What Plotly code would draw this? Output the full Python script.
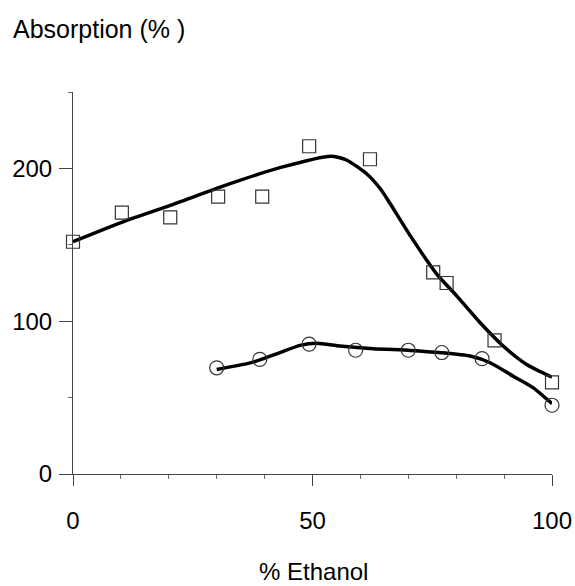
import plotly.graph_objects as go

# Square series (upper)
sq_x = [0, 10.2, 20.3, 30.3, 39.5, 49.3, 62, 75.2, 78, 88, 100]
sq_y = [152, 171, 168, 181.5, 181.5, 214.5, 206, 132, 125, 87.5, 60]
# Circle series (lower)
ci_x = [30, 39, 49.3, 59, 70, 77, 85.4, 100]
ci_y = [69.5, 75, 85, 81, 81, 79.5, 75.5, 45]

# Fitted curves (hand-drawn smooth lines)
up_x = [0, 11.2, 19.6, 32.8, 43.2, 53.8, 57.1, 61.3, 64.2, 66.2, 70.4, 75.9, 80.1, 85, 89.8, 94.7, 100]
up_y = [152, 166, 175, 190, 200.5, 208, 205.5, 196.5, 186.5, 177, 156, 131, 116.6, 99, 83.8, 71.7, 63.4]
lo_x = [30, 37.6, 43.2, 47.4, 50.9, 55.7, 62.7, 70.4, 76.9, 82.9, 87.1, 91.9, 96.1, 100]
lo_y = [68.4, 73.2, 79.4, 84.2, 85.5, 83.8, 82.0, 80.9, 79.4, 77.2, 72.8, 64, 56.4, 46]

x_ticks = [0, 50, 100]
y_ticks = [0, 100, 200]

FONT = "Liberation Sans, Arial, sans-serif"

fig = go.Figure()
fig.add_trace(go.Scatter(x=up_x, y=up_y, mode="lines",
                         line=dict(color="black", width=3.5, shape="spline", smoothing=0.6),
                         cliponaxis=False, hoverinfo="skip"))
fig.add_trace(go.Scatter(x=lo_x, y=lo_y, mode="lines",
                         line=dict(color="black", width=3.5, shape="spline", smoothing=0.6),
                         cliponaxis=False, hoverinfo="skip"))
fig.add_trace(go.Scatter(x=sq_x, y=sq_y, mode="markers",
                         marker=dict(symbol="square-open", size=13, color="#333",
                                     line=dict(width=1.2, color="#333")),
                         cliponaxis=False))
fig.add_trace(go.Scatter(x=ci_x, y=ci_y, mode="markers",
                         marker=dict(symbol="circle-open", size=14, color="#333",
                                     line=dict(width=1.2, color="#333")),
                         cliponaxis=False))

fig.update_layout(
    width=575, height=586,
    margin=dict(l=73, r=23, t=92, b=112, autoexpand=False),
    paper_bgcolor="white", plot_bgcolor="white",
    showlegend=False,
    font=dict(family=FONT, size=24, color="black"),
    xaxis=dict(range=[0, 100], tickvals=x_ticks, ticktext=[str(v) for v in x_ticks],
               automargin=False,
               showgrid=False, zeroline=False, showline=True, linecolor="#444", linewidth=1,
               ticks="outside", ticklen=11, tickwidth=1.2, tickcolor="#444",
               ticklabelstandoff=14,
               minor=dict(dtick=10, ticks="outside", ticklen=4, tickcolor="#666", showgrid=False),
               tickfont=dict(size=24, family=FONT)),
    yaxis=dict(range=[0, 250], tickvals=y_ticks, ticktext=[str(v) for v in y_ticks],
               automargin=False,
               showgrid=False, zeroline=False, showline=True, linecolor="#444", linewidth=1,
               ticks="outside", ticklen=13, tickwidth=1.2, tickcolor="#444",
               ticklabelstandoff=2,
               minor=dict(dtick=50, ticks="outside", ticklen=4, tickcolor="#666", showgrid=False),
               tickfont=dict(size=24, family=FONT)),
    annotations=[
        dict(text="Absorption (% )", xref="paper", yref="paper",
             x=(11 - 73) / 479, y=(474 - 29) / 382, xanchor="left", yanchor="middle",
             showarrow=False, font=dict(size=25, family=FONT)),
        dict(text="% Ethanol", xref="paper", yref="paper",
             x=(313 - 73) / 479, y=(474 - 571) / 382, xanchor="center", yanchor="middle",
             showarrow=False, font=dict(size=24, family=FONT)),
    ],
)

fig.write_html("out.html")
